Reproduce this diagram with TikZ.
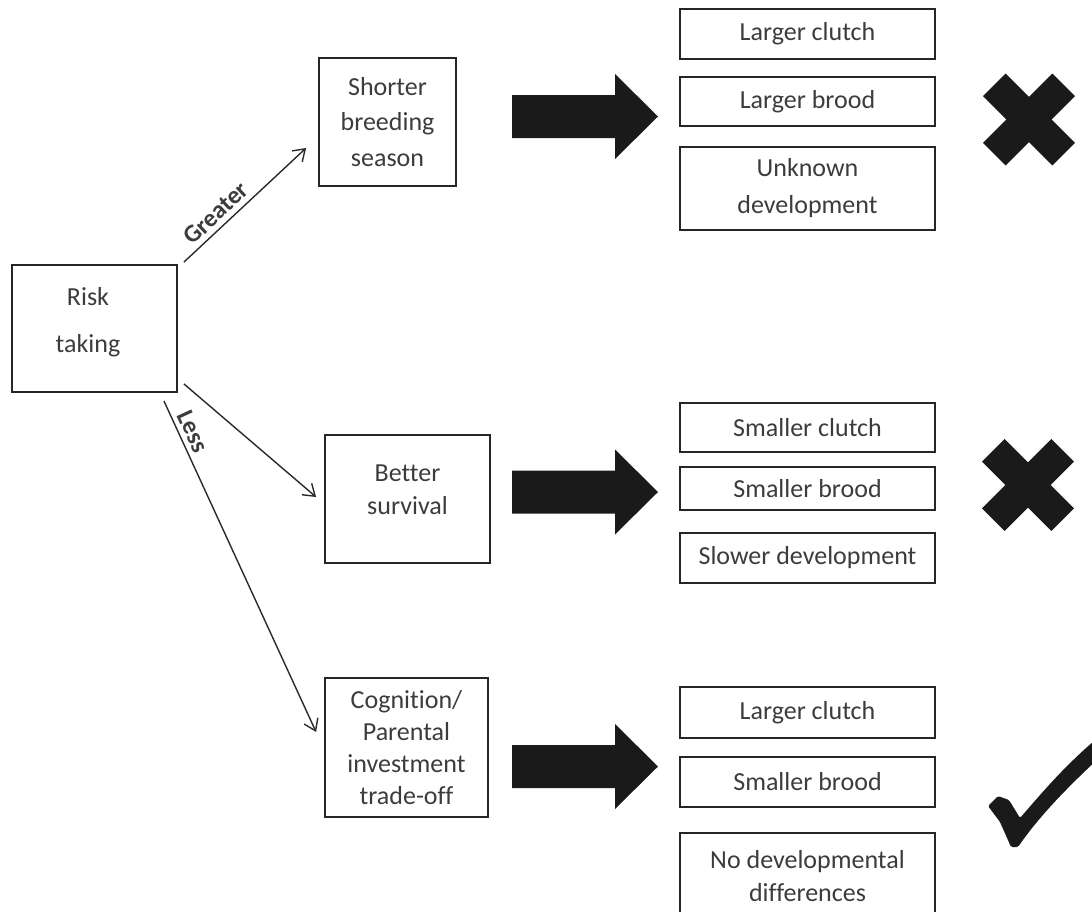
\documentclass[tikz,border=0pt]{standalone}
\usepackage{fontspec}
\setmainfont{Carlito}[Ligatures={NoCommon}]
\usetikzlibrary{arrows.meta}
\definecolor{boxc}{HTML}{262626}
\definecolor{txtc}{HTML}{3C3C3C}
\definecolor{linec}{HTML}{2A2A2A}
\definecolor{markc}{HTML}{1A1A1A}
\begin{document}
\begin{tikzpicture}[x=1pt,y=-1pt,
  box/.style={draw=boxc, line width=1.8pt, inner sep=0pt, align=center, text=txtc,
    font=\fontsize{26}{33}\selectfont},
  txt/.style={inner sep=0pt, align=center, text=txtc, font=\fontsize{26}{33}\selectfont},
  conn/.style={-{Straight Barb[length=11pt,width=15pt,line width=1.4pt]}, line width=1.4pt, draw=linec},
  lab/.style={font=\bfseries\fontsize{25}{28}\selectfont, text=txtc, inner sep=5pt},
  bigarrow/.pic={\fill[markc] (0,-21.5) -- (103,-21.5) -- (103,-42.5) -- (146,0) -- (103,42.5) -- (103,21.5) -- (0,21.5) -- cycle;},
  xmark/.pic={\fill[markc, rotate=45] (49,16) -- (16,16) -- (16,49) -- (-16,49) -- (-16,16) -- (-49,16) -- (-49,-16) -- (-16,-16) -- (-16,-49) -- (16,-49) -- (16,-16) -- (49,-16) -- cycle;}
]
\useasboundingbox (0,0) rectangle (1092,911);
\clip (0,0) rectangle (1092,911);

% left and middle column
\node[box, minimum width=165pt, minimum height=127pt] (risk) at (94.5,328.5) {};
\node[txt] (risktxt) at (88,322) {Risk\\[14pt]taking};
\node[box, minimum width=137pt, minimum height=128pt, font=\fontsize{26}{35.5}\selectfont] (short) at (387.5,122) {Shorter\\breeding\\season};
\node[box, minimum width=165pt, minimum height=128pt] (better) at (407.5,499) {};
\node[txt] (bettertxt) at (407.5,490) {Better\\survival};
\node[box, minimum width=163pt, minimum height=139pt, font=\fontsize{26}{32}\selectfont] (cog) at (406.5,747.5) {Cognition/\\Parental\\investment\\trade-off};

% right column, top group
\node[box, minimum width=255pt, minimum height=50pt] (lc1) at (807.5,34) {Larger clutch};
\node[box, minimum width=255pt, minimum height=49pt] (lb1) at (807.5,101.5) {Larger brood};
\node[box, minimum width=255pt, minimum height=83pt, font=\fontsize{26}{37}\selectfont] (ud) at (807.5,188.5) {Unknown\\development};

% right column, middle group
\node[box, minimum width=255pt, minimum height=49pt] (sc) at (807.5,427.5) {Smaller clutch};
\node[box, minimum width=255pt, minimum height=43pt] (sb2) at (807.5,488.5) {Smaller brood};
\node[box, minimum width=255pt, minimum height=50pt] (sd) at (807.5,558) {Slower development};

% right column, bottom group
\node[box, minimum width=255pt, minimum height=51pt] (lc3) at (807.5,712.5) {Larger clutch};
\node[box, minimum width=255pt, minimum height=50pt] (sb3) at (807.5,782) {Smaller brood};
\node[box, minimum width=255pt, minimum height=87pt] (nd) at (807.5,876.5) {No developmental\\differences};

% connectors
\draw[conn] ([shift={(6,-2)}]risk.north east) -- ([shift={(-12,26)}]short.west)
  node[lab, pos=0.34, sloped, above] {Greater};
\draw[conn] ([shift={(6,-9)}]risk.south east) -- ([shift={(-8,-2)}]better.west);
\draw[conn] ([shift={(-14,8)}]risk.south east) -- ([shift={(-8,-15.5)}]cog.west)
  node[lab, pos=0.11, sloped, above] {Less};

% big arrows
\pic at (512,116.5) {bigarrow};
\pic at (512,492) {bigarrow};
\pic at (512,766.5) {bigarrow};

% marks
\pic at (1029,119.5) {xmark};
\pic at (1028,485) {xmark};
\fill[markc, rounded corners=1.5pt] (988,806) -- (998,796) -- (1009,800) -- (1020,818)
  .. controls (1040,795) and (1065,765) .. (1100,736) -- (1100,757)
  .. controls (1070,785) and (1040,815) .. (1018,847) -- (1011,847) -- (1000,822) -- cycle;
\end{tikzpicture}
\end{document}
